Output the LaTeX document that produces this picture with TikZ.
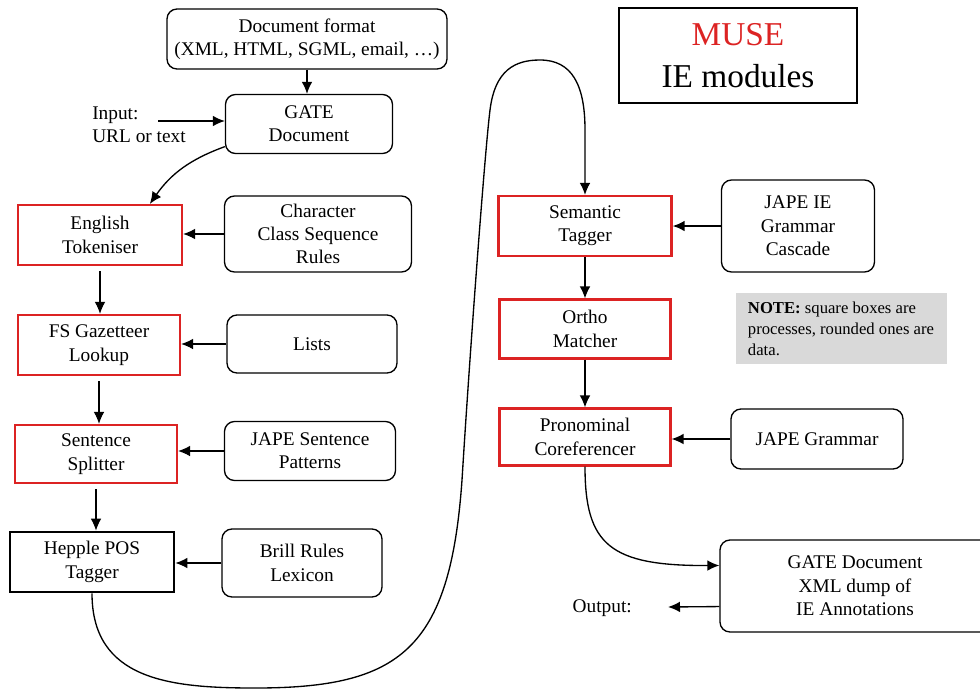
\documentclass[tikz,border=0pt]{standalone}
\usepackage{fontspec}
\setmainfont{Liberation Serif}
\usetikzlibrary{arrows.meta,calc}
\definecolor{boxred}{RGB}{220,35,35}
\definecolor{notegray}{RGB}{217,217,217}
\tikzset{sz/.style 2 args={minimum width=#1*0.75pt, minimum height=#2*0.75pt}}
\begin{document}
\begin{tikzpicture}[x=0.75pt,y=-0.75pt,
 every node/.style={font=\rmfamily\fontsize{14.5}{17.5}\selectfont, align=center, inner sep=0pt},
 proc/.style={draw=boxred, line width=1.6pt},
 data/.style={draw, line width=1pt, rounded corners=7.5pt},
 arr/.style={line width=1pt, -{Latex[length=9pt,width=8pt]}},
]
\useasboundingbox (0,0) rectangle (980,690);

\node[data, sz={280}{60}] (docfmt) at (307,39) {Document format\\(XML, HTML, SGML, email, \dots)};
\node[data, sz={167}{59}] (gatedoc) at (309,124) {GATE\\Document};
\node[anchor=west, align=left] (input) at (92,125) {Input:\\URL or text};
\coordinate (inend) at (158,121);
\node[draw, line width=1.6pt, sz={238}{95}, font=\rmfamily\fontsize{25}{31.5}\selectfont] (muse) at (738,55.5) {\textcolor{boxred}{MUSE}\\IE modules};

\node[proc, sz={164}{60}] (tok) at (100,235) {English\\Tokeniser};
\node[data, sz={187}{76}] (ccs) at (318,234) {Character\\Class Sequence\\Rules};
\node[proc, sz={162}{60}] (gaz) at (99,345) {FS Gazetteer\\Lookup};
\node[data, sz={170}{58}] (lists) at (312,344) {Lists};
\node[proc, sz={162}{58}] (split) at (96,454) {Sentence\\Splitter};
\node[data, sz={171}{59}] (jsp) at (310,451) {JAPE Sentence\\Patterns};
\node[draw, line width=2pt, sz={164}{60}] (hepple) at (92,562) {Hepple POS\\Tagger};
\node[data, sz={160}{68}] (brill) at (302,563) {Brill Rules\\Lexicon};

\node[proc, sz={173}{60}] (sem) at (585,226) {Semantic\\Tagger};
\node[data, sz={153}{92}] (jie) at (798,226) {JAPE IE\\Grammar\\Cascade};
\node[fill=notegray, sz={211}{71}, align=left, font=\rmfamily\fontsize{12.5}{15.75}\selectfont] (note) at (841,328.5) {\textbf{NOTE:} square boxes are\\processes, rounded ones are\\data.};
\node[proc, sz={171}{59}] (ortho) at (585,329) {Ortho\\Matcher};
\node[proc, sz={171}{57}] (pron) at (585,437) {Pronominal\\Coreferencer};
\node[data, sz={172}{60}] (jg) at (817,439) {JAPE Grammar};
\node[data, sz={270}{92}] (out) at (855,586) {GATE Document\\XML dump of\\IE Annotations};
\node[anchor=east] (outlbl) at (632,608) {Output:};
\coordinate (outend) at (668,607);

% connectors
\draw[arr] (docfmt.south) -- (docfmt.south |- gatedoc.north);
\draw[arr] (inend) -- (inend -| gatedoc.west);
\draw[arr] ($(gatedoc.west)!0.75!(gatedoc.south west)$) to[out=200,in=55] ($(tok.north)!0.6!(tok.north east)$);
\draw[arr, shorten <=4pt] (tok.south) -- (tok.south |- gaz.north);
\draw[arr, shorten <=4pt] (gaz.south) -- (gaz.south |- split.north);
\draw[arr, shorten <=4pt] (split.south) -- (split.south |- hepple.north);
\draw[arr] (ccs.west) -- (ccs.west -| tok.east);
\draw[arr] (lists.west) -- (lists.west -| gaz.east);
\draw[arr] (jsp.west) -- (jsp.west -| split.east);
\draw[arr] (brill.west) -- (brill.west -| hepple.east);
\draw[arr] (hepple.south) .. controls (92,680) and (170,688) .. (255,688)
  .. controls (400,688) and (450,650) .. (462,480)
  .. controls (470,350) and (485,150) .. (490,110)
  .. controls (495,70) and (515,60) .. (540,60)
  .. controls (572,60) and (585,85) .. (585,130) -- (sem.north);
\draw[arr, line width=1.5pt] (jie.west) -- (jie.west -| sem.east);
\draw[arr] (sem.south) -- (ortho.north);
\draw[arr] (ortho.south) -- (pron.north);
\draw[arr] (jg.west) -- (jg.west -| pron.east);
\draw[arr] (pron.south) .. controls (585,545) and (610,566) .. ($(out.north west)!0.28!(out.south west)$);
\draw[arr] ($(out.north west)!0.72!(out.south west)$) -- (outend);
\end{tikzpicture}
\end{document}
